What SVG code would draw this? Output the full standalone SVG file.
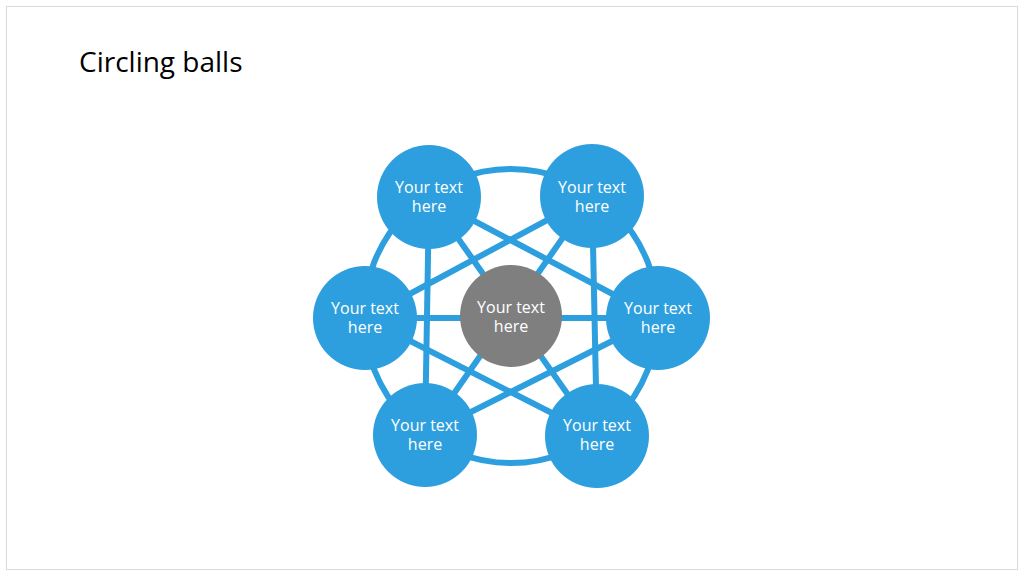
<svg xmlns="http://www.w3.org/2000/svg" width="1024" height="576" viewBox="0 0 1024 576">
<style>
.ln{stroke:#2E9FDE;stroke-width:6;fill:none}
.b{fill:#2E9FDE}
.g{fill:#7F7F7F}
.t{font-family:"Open Sans","Liberation Sans",sans-serif;font-size:16px;fill:#fff;text-anchor:middle}
</style>
<rect x="0" y="0" width="1024" height="576" fill="#fff"/>
<rect x="6.500" y="6.500" width="1011" height="563" fill="none" stroke="#D9D9D9"/>
<text x="79" y="72" font-family="'Open Sans','Liberation Sans',sans-serif" font-size="28" fill="#000">Circling balls</text>
<g id="connectors">
<circle class="ln" cx="511" cy="316" r="147"/>
<line class="ln" x1="429" y1="197" x2="425" y2="435"/>
<line class="ln" x1="592" y1="196" x2="597" y2="436"/>
<line class="ln" x1="429" y1="197" x2="658" y2="318"/>
<line class="ln" x1="429" y1="197" x2="597" y2="436"/>
<line class="ln" x1="592" y1="196" x2="365" y2="318"/>
<line class="ln" x1="592" y1="196" x2="425" y2="435"/>
<line class="ln" x1="365" y1="318" x2="658" y2="318"/>
<line class="ln" x1="365" y1="318" x2="597" y2="436"/>
<line class="ln" x1="658" y1="318" x2="425" y2="435"/>
</g>
<g id="n1"><circle class="b" cx="429" cy="197" r="52"/><text class="t" x="429" y="193">Your text</text><text class="t" x="429" y="212">here</text></g>
<g id="n2"><circle class="b" cx="592" cy="196" r="52"/><text class="t" x="592" y="193">Your text</text><text class="t" x="592" y="212">here</text></g>
<g id="n3"><circle class="b" cx="365" cy="318" r="52"/><text class="t" x="365" y="314">Your text</text><text class="t" x="365" y="333">here</text></g>
<g id="n4"><circle class="b" cx="658" cy="318" r="52"/><text class="t" x="658" y="314">Your text</text><text class="t" x="658" y="333">here</text></g>
<g id="n5"><circle class="b" cx="425" cy="435" r="52"/><text class="t" x="425" y="431">Your text</text><text class="t" x="425" y="450">here</text></g>
<g id="n6"><circle class="b" cx="597" cy="436" r="52"/><text class="t" x="597" y="431">Your text</text><text class="t" x="597" y="450">here</text></g>
<g id="center"><circle class="g" cx="511" cy="316" r="51"/><text class="t" x="511" y="313">Your text</text><text class="t" x="511" y="332">here</text></g>
</svg>
